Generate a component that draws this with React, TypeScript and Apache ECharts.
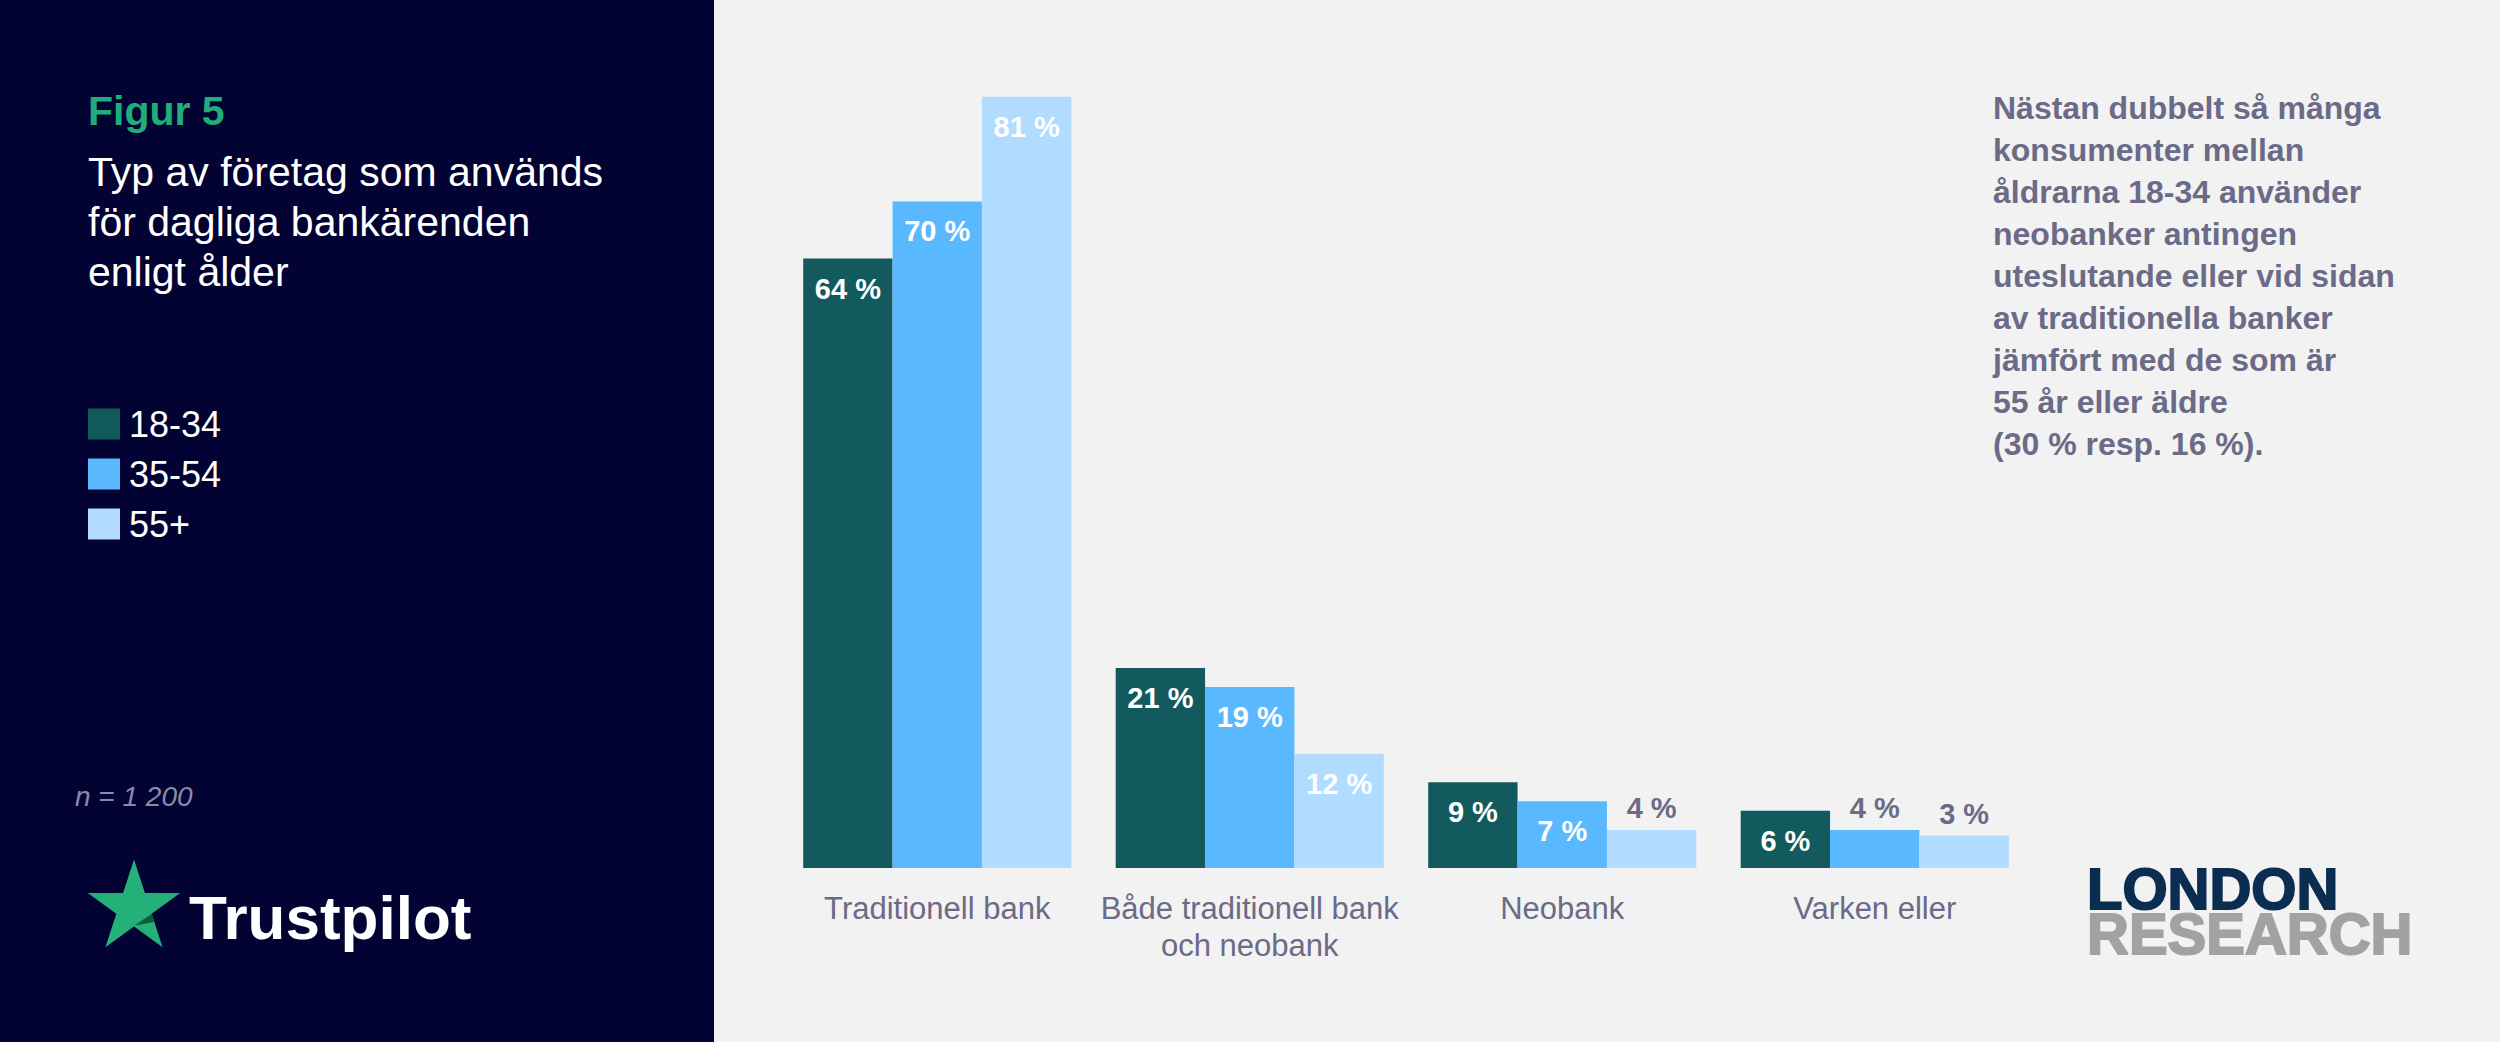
import React, { useEffect, useRef } from "react";
import * as echarts from "echarts";

const categories = [
  "Traditionell bank",
  "Både traditionell bank\noch neobank",
  "Neobank",
  "Varken eller",
];
const seriesNames = ["18-34", "35-54", "55+"];
const values1834 = [64, 21, 9, 6];
const values3554 = [70, 19, 7, 4];
const values55 = [81, 12, 4, 3.4];
const seriesColors = ["#135a5e", "#5ab8ff", "#b2dcff"];

const figureLabel = "Figur 5";
const titleLines = ["Typ av företag som används", "för dagliga bankärenden", "enligt ålder"];
const sampleText = "n = 1 200";
const noteLines = [
  "Nästan dubbelt så många",
  "konsumenter mellan",
  "åldrarna 18-34 använder",
  "neobanker antingen",
  "uteslutande eller vid sidan",
  "av traditionella banker",
  "jämfört med de som är",
  "55 år eller äldre",
  "(30 % resp. 16 %).",
];

const FONT = "'Liberation Sans', Arial, Helvetica, sans-serif";
const GRAY = "#6b6a87";

function starPoints(cx: number, cy: number, R: number, r: number) {
  const pts: number[][] = [];
  for (let i = 0; i < 10; i++) {
    const a = ((-90 + i * 36) * Math.PI) / 180;
    const rr = i % 2 === 0 ? R : r;
    pts.push([cx + rr * Math.cos(a), cy + rr * Math.sin(a)]);
  }
  return pts;
}

export default function App() {
  const ref = useRef<HTMLDivElement>(null);

  useEffect(() => {
    document.body.style.margin = "0";
    if (!ref.current) return;
    const chart = echarts.init(ref.current, undefined, { renderer: "svg" });

    const makeData = (vals: number[]) =>
      vals.map((v) => ({
        value: v,
        label:
          v >= 5
            ? { position: "insideTop", distance: 15, color: "#ffffff" }
            : { position: "top", distance: 7, color: GRAY },
      }));

    const allValues = [values1834, values3554, values55];

    const series = seriesNames.map((name, i) => ({
      name,
      type: "bar",
      data: makeData(allValues[i]),
      barGap: "0%",
      barCategoryGap: "14.2%",
      itemStyle: { color: seriesColors[i] },
      label: {
        show: true,
        fontFamily: FONT,
        fontSize: 29,
        fontWeight: "bold",
        lineHeight: 30,
        formatter: (p: any) => Math.round(p.value) + " %",
      },
    }));

    const star = starPoints(134, 908, 48.6, 18.6);

    chart.setOption({
      animation: false,
      backgroundColor: "#f2f2f2",
      grid: { left: 781, width: 1250, top: 11, bottom: 174, containLabel: false },
      xAxis: {
        type: "category",
        data: categories,
        axisLine: { show: false },
        axisTick: { show: false },
        splitLine: { show: false },
        axisLabel: {
          color: GRAY,
          fontFamily: FONT,
          fontSize: 31,
          lineHeight: 37,
          margin: 22,
          interval: 0,
        },
      },
      yAxis: { type: "value", min: 0, max: 90, show: false, splitLine: { show: false } },
      legend: {
        orient: "vertical",
        left: 88,
        top: 406,
        padding: 0,
        itemWidth: 32,
        itemHeight: 31,
        itemGap: 14,
        icon: "rect",
        selectedMode: false,
        data: seriesNames,
        textStyle: {
          color: "#ffffff",
          fontFamily: FONT,
          fontSize: 36,
          lineHeight: 36,
          padding: [0, 0, 0, 4],
        },
      },
      graphic: [
        {
          type: "rect",
          z: -10,
          silent: true,
          shape: { x: 0, y: 0, width: 714, height: 1042 },
          style: { fill: "#020233" },
        },
        {
          type: "text",
          x: 88,
          y: 110.5,
          style: {
            text: figureLabel,
            fill: "#1fae79",
            font: `bold 41px ${FONT}`,
            verticalAlign: "middle",
          },
        },
        {
          type: "text",
          x: 88,
          y: 221.7,
          style: {
            text: titleLines.join("\n"),
            fill: "#ffffff",
            font: `41px ${FONT}`,
            lineHeight: 50,
            verticalAlign: "middle",
          },
        },
        {
          type: "text",
          x: 75,
          y: 796.7,
          style: {
            text: sampleText,
            fill: "#8b8aa8",
            font: `italic 28px ${FONT}`,
            verticalAlign: "middle",
          },
        },
        {
          type: "polygon",
          shape: { points: star },
          style: { fill: "#25b07a" },
        },
        {
          type: "polygon",
          shape: { points: [[151.7, 913.7], [134.5, 925.5], [154.5, 922]] },
          style: { fill: "#06603a" },
        },
        {
          type: "text",
          x: 189,
          y: 917.2,
          style: {
            text: "Trustpilot",
            fill: "#ffffff",
            font: `bold 62px ${FONT}`,
            verticalAlign: "middle",
          },
        },
        {
          type: "text",
          x: 1993,
          y: 275.5,
          style: {
            text: noteLines.join("\n"),
            fill: GRAY,
            font: `bold 32px ${FONT}`,
            lineHeight: 42,
            verticalAlign: "middle",
          },
        },
        {
          type: "text",
          x: 2087,
          y: 910.5,
          style: {
            text: "{a|LONDON}\n{b|RESEARCH}",
            font: `bold 58px ${FONT}`,
            verticalAlign: "middle",
            rich: {
              a: {
                fill: "#0b2e50",
                stroke: "#0b2e50",
                lineWidth: 2,
                font: `bold 58px ${FONT}`,
                lineHeight: 45,
              },
              b: {
                fill: "#a2a2a2",
                stroke: "#a2a2a2",
                lineWidth: 2,
                font: `bold 58px ${FONT}`,
                lineHeight: 45,
              },
            },
          },
        },
      ],
      series,
    });

    return () => chart.dispose();
  }, []);

  return <div ref={ref} style={{ width: 2500, height: 1042 }} />;
}
